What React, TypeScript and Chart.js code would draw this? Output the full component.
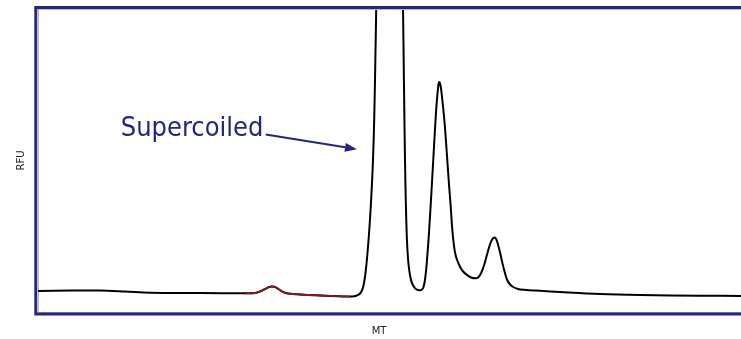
import { useEffect, useRef } from "react";
import { Chart, registerables } from "chart.js";

Chart.register(...registerables);

// Electropherogram trace: migration time (MT, arbitrary units) vs fluorescence (RFU)
const migrationTime = [
  0, 4.53, 8.77, 12.31, 15.84, 22.91, 29.28, 30.69, 31.4, 32.11, 32.67, 33.1, 33.52,
  34.09, 34.65, 35.36, 37.06, 39.89, 42.72, 44.13, 44.7, 45.12, 45.54, 45.83, 46.04,
  46.25, 46.46, 46.68, 46.89, 47.1, 47.31, 47.48, 47.61, 47.71, 47.81, 47.89, 48.66,
  49.72, 50.78, 51.53, 51.67, 51.81, 51.94, 52.08, 52.22, 52.4, 52.62, 52.9, 53.32,
  53.75, 54.03, 54.24, 54.46, 54.67, 54.88, 55.09, 55.3, 55.59, 55.87, 56.15, 56.36,
  56.58, 56.72, 56.93, 57.14, 57.36, 57.57, 57.85, 58.13, 58.35, 58.56, 58.77, 58.98,
  59.26, 59.69, 60.11, 60.68, 61.24, 61.81, 62.23, 62.66, 63.08, 63.51, 63.93, 64.21,
  64.5, 64.78, 65.06, 65.35, 65.63, 65.91, 66.34, 66.76, 67.19, 67.75, 68.18, 69.59,
  71.0, 73.83, 79.49, 85.15, 93.64, 99.43,
];
const rfu = [
  6.93, 7.1, 7.1, 6.77, 6.37, 6.27, 6.17, 6.27, 6.77, 7.59, 8.25, 8.42, 8.25,
  7.43, 6.6, 6.11, 5.78, 5.45, 5.18, 5.08, 5.18, 5.51, 6.11, 7.26, 8.91,
  11.88, 16.17, 22.11, 28.71, 36.96, 46.86, 58.42, 71.62, 84.82, 98.02, 111.2, 198,
  264, 198, 112.9, 89.77, 63.37, 43.56, 29.7, 21.12, 15.51, 11.88, 9.41, 7.82,
  7.26, 7.16, 7.33, 7.92, 9.9, 13.86, 19.8, 26.73, 37.95, 49.5, 61.06, 68.65,
  74.26, 75.91, 74.59, 70.63, 65.68, 60.07, 50.83, 41.58, 34.98, 27.72, 22.77, 19.47,
  17.16, 14.85, 13.37, 12.21, 11.39, 11.12, 11.39, 12.87, 15.51, 19.14, 22.44, 23.93,
  24.59, 24.09, 22.11, 19.47, 16.5, 13.86, 10.56, 9.08, 8.25, 7.69, 7.43, 7.16,
  7.0, 6.6, 5.94, 5.61, 5.38, 5.28,
];

// Integrated region drawn in red
const highlightStart = 29.28;
const highlightEnd = 44.13;

// Peak annotation
const annotationText = "Supercoiled";
const annotationTextAt = [11.7, 58.1];
const arrowFrom = [32.2, 58.6];
const arrowTo = [45.1, 53.7];

const xTitle = "MT";
const yTitle = "RFU";

const NAVY = "#25257d";

export default function App() {
  const canvasRef = useRef<HTMLCanvasElement | null>(null);

  useEffect(() => {
    const canvas = canvasRef.current;
    if (!canvas) return;

    const trace = migrationTime.map((x, i) => ({ x, y: rfu[i] }));
    const highlighted = trace.filter((p) => p.x >= highlightStart && p.x <= highlightEnd);

    const framePlugin = {
      id: "frameAndLabels",
      afterDraw(chart: any) {
        const { ctx, chartArea, scales } = chart;
        const { left, top, bottom } = chartArea;
        const w = chart.width;
        ctx.save();
        // thin grey inner top line
        ctx.strokeStyle = "#b8b8c0";
        ctx.lineWidth = 1;
        ctx.beginPath();
        ctx.moveTo(left, top + 0.5);
        ctx.lineTo(w, top + 0.5);
        ctx.stroke();
        // navy frame: top, left, bottom (right side runs off the canvas)
        ctx.strokeStyle = NAVY;
        ctx.lineWidth = 3;
        ctx.lineCap = "square";
        ctx.beginPath();
        ctx.moveTo(w + 5, top - 1.5);
        ctx.lineTo(left - 2.2, top - 1.5);
        ctx.lineTo(left - 2.2, bottom + 2);
        ctx.lineTo(w + 5, bottom + 2);
        ctx.stroke();

        // axis titles
        ctx.fillStyle = "#222";
        ctx.font = '10px "DejaVu Sans", Verdana, sans-serif';
        ctx.textAlign = "center";
        ctx.textBaseline = "middle";
        ctx.fillText(xTitle, 379, 331.5);
        ctx.save();
        ctx.translate(21.5, (top + bottom) / 2);
        ctx.rotate(-Math.PI / 2);
        ctx.fillText(yTitle, 0, 0);
        ctx.restore();

        // annotation
        const xs = scales.x;
        const ys = scales.y;
        ctx.fillStyle = NAVY;
        ctx.font = '27px "DejaVu Sans Condensed", "DejaVu Sans", sans-serif';
        ctx.textAlign = "left";
        ctx.textBaseline = "alphabetic";
        ctx.fillText(
          annotationText,
          xs.getPixelForValue(annotationTextAt[0]),
          ys.getPixelForValue(annotationTextAt[1])
        );
        const x0 = xs.getPixelForValue(arrowFrom[0]);
        const y0 = ys.getPixelForValue(arrowFrom[1]);
        const x1 = xs.getPixelForValue(arrowTo[0]);
        const y1 = ys.getPixelForValue(arrowTo[1]);
        const ang = Math.atan2(y1 - y0, x1 - x0);
        const headLen = 12;
        const headHalf = 4.5;
        const bx = x1 - headLen * Math.cos(ang);
        const by = y1 - headLen * Math.sin(ang);
        ctx.strokeStyle = NAVY;
        ctx.lineWidth = 2;
        ctx.lineCap = "butt";
        ctx.beginPath();
        ctx.moveTo(x0, y0);
        ctx.lineTo(bx, by);
        ctx.stroke();
        ctx.beginPath();
        ctx.moveTo(x1, y1);
        ctx.lineTo(bx + headHalf * Math.sin(ang), by - headHalf * Math.cos(ang));
        ctx.lineTo(bx - headHalf * Math.sin(ang), by + headHalf * Math.cos(ang));
        ctx.closePath();
        ctx.fill();
        ctx.restore();
      },
    };

    const chart = new Chart(canvas, {
      type: "line",
      data: {
        datasets: [
          {
            data: highlighted,
            borderColor: "#7a1f1f",
            borderWidth: 1.8,
            pointRadius: 0,
            tension: 0.35,
            order: 0,
          },
          {
            data: trace,
            borderColor: "#000000",
            borderWidth: 2,
            pointRadius: 0,
            tension: 0.35,
            order: 1,
          },
        ],
      },
      options: {
        responsive: false,
        animation: false,
        layout: { padding: { top: 9, right: 0, left: 0, bottom: 0 } },
        plugins: { legend: { display: false }, tooltip: { enabled: false } },
        scales: {
          x: {
            type: "linear",
            min: 0,
            max: 99.4,
            ticks: { display: false },
            grid: { display: false, drawTicks: false },
            border: { display: true, color: "#b8b8c0", width: 1, dash: [2, 1] },
            afterFit: (scale: any) => {
              scale.height = 27;
            },
          },
          y: {
            type: "linear",
            min: 0,
            max: 100,
            ticks: { display: false },
            grid: { display: false, drawTicks: false },
            border: { display: true, color: "#b8b8c0", width: 1, dash: [2, 1] },
            afterFit: (scale: any) => {
              scale.width = 38;
            },
          },
        },
      },
      plugins: [framePlugin],
    });

    return () => chart.destroy();
  }, []);

  return (
    <div style={{ position: "fixed", left: 0, top: 0, width: 741, height: 339, background: "#fff" }}>
      <canvas ref={canvasRef} width={741} height={339} />
    </div>
  );
}
